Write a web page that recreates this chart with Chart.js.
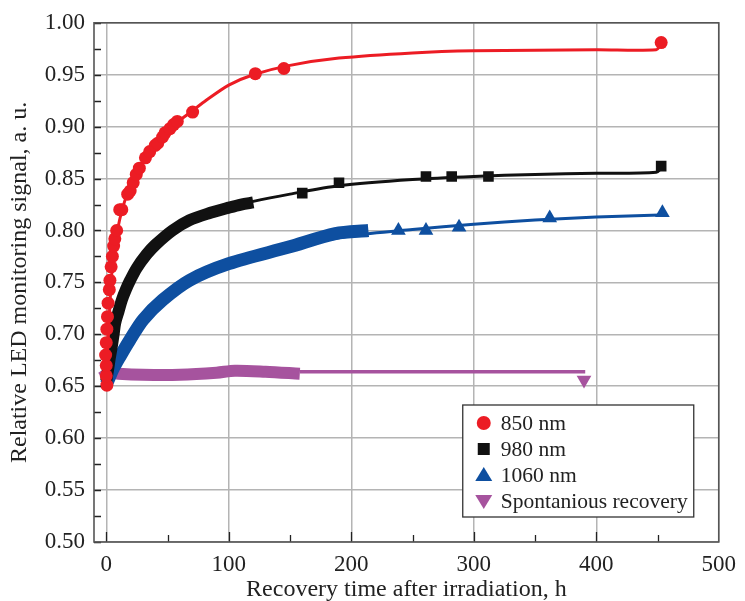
<!DOCTYPE html>
<html>
<head>
<meta charset="utf-8">
<script src="https://cdn.jsdelivr.net/npm/chart.js@4.4.1/dist/chart.umd.min.js"></script>
<style>
  html, body { margin: 0; padding: 0; background: #fff; }
  #wrap { width: 745px; height: 601px; }
</style>
</head>
<body>
<div id="wrap"><canvas id="chart" width="745" height="601"></canvas></div>
<script>
// axis ticks
const xTicks = [0, 100, 200, 300, 400, 500];
const xMinorTicks = [0, 50, 100, 150, 200, 250, 300, 350, 400, 450];
const yTicks = [0.50, 0.55, 0.60, 0.65, 0.70, 0.75, 0.80, 0.85, 0.90, 0.95, 1.00];
const yMinorTicks = [0.525, 0.575, 0.625, 0.675, 0.725, 0.775, 0.825, 0.875, 0.925, 0.975];

const seriesNames = ["850 nm", "980 nm", "1060 nm", "Spontanious recovery"];

// 850 nm
const red850Points = [[0.5,0.651],[0,0.660],[0,0.670],[-0.5,0.680],[0,0.692],[0.5,0.705],[1,0.717],[1.5,0.730],
  [2.5,0.743],[3,0.752],[4,0.765],[5,0.775],[6,0.785],[7,0.792],[8.5,0.800],[11,0.820],[12.7,0.820],
  [17.5,0.835],[19.5,0.838],[22,0.846],[24.5,0.854],[27,0.860],[32,0.870],[35.5,0.876],[40,0.882],
  [42,0.884],[46,0.890],[48,0.894],[52,0.898],[55,0.902],[58,0.905],[70.5,0.914],[121.7,0.951],
  [145,0.956],[453,0.981]];
const red850Fit = [[0,0.655],[2,0.705],[5,0.765],[10,0.805],[15,0.828],[20,0.843],[30,0.866],[40,0.882],
  [50,0.895],[60,0.906],[70,0.915],[80,0.924],[100,0.940],[120,0.950],[150,0.959],[190,0.966],
  [250,0.971],[300,0.973],[400,0.974],[449,0.974],[452,0.978]];

// 980 nm
const black980Band = [[0,0.655],[1.6,0.667],[3,0.678],[4.6,0.689],[6,0.700],[7.3,0.711],[10,0.722],
  [12.7,0.733],[16,0.743],[19.5,0.752],[25,0.764],[33,0.777],[40,0.786],[54,0.800],[68,0.810],
  [85,0.817],[100,0.822],[110,0.825],[120,0.827]];
const black980Points = [[160,0.836],[190,0.846],[261,0.852],[282,0.852],[312,0.852],[453,0.862]];
const black980Fit = [[0,0.655],[5,0.695],[10,0.722],[20,0.753],[30,0.772],[40,0.786],[50,0.796],
  [60,0.804],[80,0.815],[100,0.822],[120,0.828],[150,0.835],[190,0.843],[250,0.849],[300,0.852],
  [350,0.854],[400,0.855],[449,0.856],[453,0.860]];

// 1060 nm
const blue1060Band = [[0,0.652],[1.6,0.656],[5.7,0.667],[11.4,0.679],[19.5,0.695],[30,0.714],[46,0.733],
  [68,0.752],[100,0.768],[149,0.784],[187,0.797],[214,0.800]];
const blue1060Points = [[238.5,0.800],[261,0.800],[288,0.803],[362,0.812],[454,0.817]];
const blue1060Fit = [[0,0.652],[10,0.677],[20,0.696],[30,0.713],[50,0.736],[70,0.752],[100,0.768],
  [150,0.784],[200,0.795],[250,0.801],[300,0.806],[350,0.810],[400,0.813],[452,0.815]];

// spontanious recovery
const purpleBand = [[-4,0.658],[3,0.663],[10,0.662],[30,0.661],[60,0.661],[90,0.663],[105,0.665],
  [130,0.664],[158,0.662]];
const purpleLine = [[158,0.664],[391,0.664]];
const purplePoints = [[390,0.656]];

const colors = ["#ec1c24", "#111111", "#0e4fa0", "#a6539e"];
const serif = "'Liberation Serif', 'Times New Roman', serif";

function xy(arr) {
  return arr.map(p => ({ x: p[0], y: p[1] }));
}

function lineSet(data, color, width) {
  return { data: xy(data), showLine: true, borderColor: color, borderWidth: width,
    pointRadius: 0, fill: false, tension: 0.3 };
}

function pointSet(label, data, color, style, radius, rotation) {
  return { label: label, data: xy(data), showLine: false, backgroundColor: color, borderColor: color,
    borderWidth: 0, pointStyle: style, pointRadius: radius, pointRotation: rotation || 0 };
}

const datasets = [
  pointSet(seriesNames[0], red850Points, colors[0], "circle", 6.5),
  lineSet(red850Fit, colors[0], 3),
  pointSet(seriesNames[1], black980Points, colors[1], "rect", 7.5),
  lineSet(black980Band, colors[1], 12),
  lineSet(black980Fit, colors[1], 3),
  pointSet(seriesNames[2], blue1060Points, colors[2], "triangle", 8.5),
  lineSet(blue1060Band, colors[2], 13),
  lineSet(blue1060Fit, colors[2], 3),
  pointSet(seriesNames[3], purplePoints, colors[3], "triangle", 8.5, 180),
  lineSet(purpleBand, colors[3], 12),
  lineSet(purpleLine, colors[3], 3.5)
];

const framePlugin = {
  id: "frame",
  afterDraw(chart) {
    const ctx = chart.ctx;
    const a = chart.chartArea;
    const x = chart.scales.x, y = chart.scales.y;
    ctx.save();
    ctx.strokeStyle = "#222";
    ctx.lineWidth = 1.3;
    ctx.beginPath();
    xMinorTicks.forEach(v => {
      const px = Math.round(x.getPixelForValue(v)) + 0.5;
      const len = v % 100 === 0 ? 10 : 7;
      ctx.moveTo(px, a.bottom);
      ctx.lineTo(px, a.bottom - len);
    });
    yTicks.concat(yMinorTicks).forEach(v => {
      const py = Math.round(y.getPixelForValue(v)) + 0.5;
      ctx.moveTo(a.left, py);
      ctx.lineTo(a.left + 7, py);
    });
    ctx.stroke();
    ctx.strokeStyle = "#555";
    ctx.lineWidth = 1.6;
    ctx.strokeRect(a.left, a.top, a.right - a.left, a.bottom - a.top);

    // legend box, bottom right inside the plot
    const w = 231, h = 112;
    const bx = a.right - 25 - w, by = a.bottom - 25 - h;
    ctx.fillStyle = "#fff";
    ctx.fillRect(bx, by, w, h);
    ctx.strokeStyle = "#333";
    ctx.lineWidth = 1.3;
    ctx.strokeRect(bx, by, w, h);
    ctx.font = "21.5px " + serif;
    ctx.textBaseline = "middle";
    ctx.textAlign = "left";
    const styles = ["circle", "rect", "triangle", "down"];
    seriesNames.forEach((name, i) => {
      const cy = by + 18 + i * 26;
      const cx = bx + 21;
      ctx.fillStyle = colors[i];
      ctx.beginPath();
      if (styles[i] === "circle") {
        ctx.arc(cx, cy, 7, 0, Math.PI * 2);
      } else if (styles[i] === "rect") {
        ctx.rect(cx - 6, cy - 6, 12, 12);
      } else if (styles[i] === "triangle") {
        ctx.moveTo(cx, cy - 8); ctx.lineTo(cx + 8.5, cy + 6); ctx.lineTo(cx - 8.5, cy + 6);
      } else {
        ctx.moveTo(cx - 8.5, cy - 6); ctx.lineTo(cx + 8.5, cy - 6); ctx.lineTo(cx, cy + 8);
      }
      ctx.closePath();
      ctx.fill();
      ctx.fillStyle = "#222";
      ctx.fillText(name, bx + 38, cy + 1);
    });
    ctx.restore();
  }
};

new Chart(document.getElementById("chart"), {
  type: "scatter",
  data: { datasets: datasets },
  options: {
    responsive: false,
    animation: false,
    devicePixelRatio: 1,
    layout: { padding: { left: 0, top: 20, right: 21, bottom: 0 } },
    plugins: { legend: { display: false }, tooltip: { enabled: false } },
    scales: {
      x: {
        type: "linear", min: -10, max: 500,
        afterBuildTicks: s => { s.ticks = xTicks.map(v => ({ value: v })); },
        afterFit: s => { s.height = 59; },
        grid: { color: "#b4b4b4", lineWidth: 1.5, drawTicks: false },
        border: { display: false },
        ticks: { color: "#222", padding: 9, maxRotation: 0, font: { family: serif, size: 23 } },
        title: { display: true, text: "Recovery time after irradiation, h", color: "#222",
          padding: { top: 0, bottom: -3 }, font: { family: serif, size: 24 } }
      },
      y: {
        type: "linear", min: 0.5, max: 1.0,
        afterBuildTicks: s => { s.ticks = yTicks.map(v => ({ value: v })); },
        afterFit: s => { s.width = 94; },
        grid: { color: "#b4b4b4", lineWidth: 1.5, drawTicks: false },
        border: { display: false },
        ticks: { color: "#222", padding: 9, callback: v => v.toFixed(2), font: { family: serif, size: 23 } },
        title: { display: true, text: "Relative LED monitoring signal, a. u.", color: "#222",
          padding: { top: 5, bottom: 0 }, font: { family: serif, size: 24 } }
      }
    }
  },
  plugins: [framePlugin]
});
</script>
</body>
</html>
